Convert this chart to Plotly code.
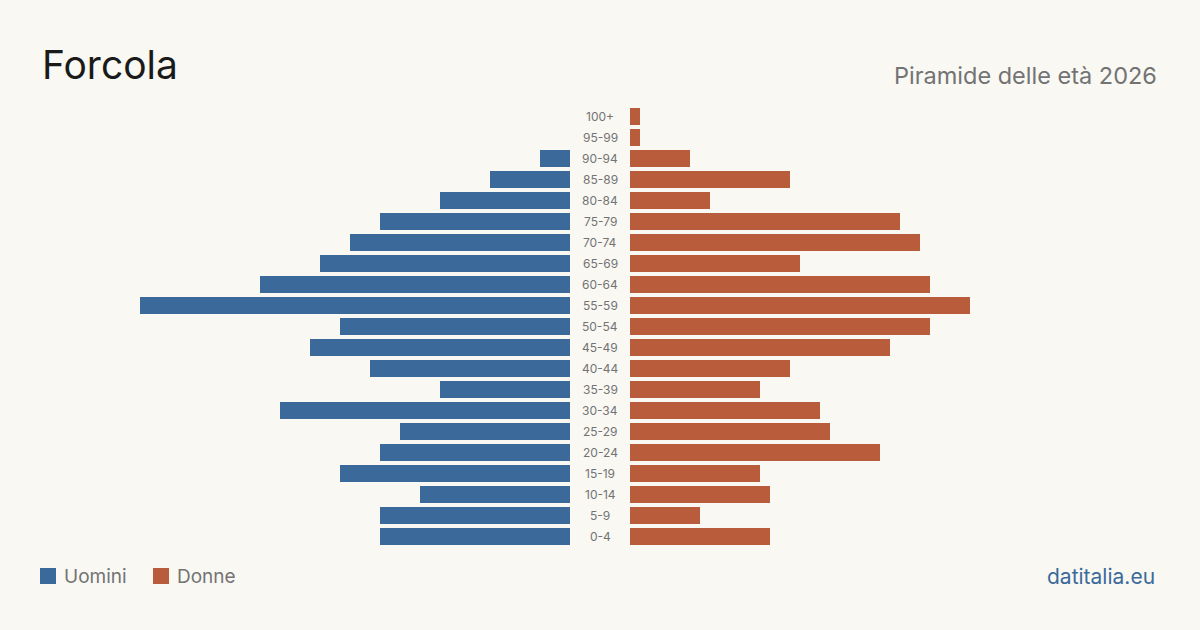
import plotly.graph_objects as go

ages = ["0-4", "5-9", "10-14", "15-19", "20-24", "25-29", "30-34", "35-39", "40-44",
        "45-49", "50-54", "55-59", "60-64", "65-69", "70-74", "75-79", "80-84",
        "85-89", "90-94", "95-99", "100+"]
uomini = [19, 19, 15, 23, 19, 17, 29, 13, 20, 26, 23, 43, 31, 25, 22, 19, 13, 8, 3, 0, 0]
donne = [14, 7, 14, 13, 25, 20, 19, 13, 16, 26, 30, 34, 30, 17, 29, 27, 8, 16, 6, 1, 1]

BLUE = "#3b6a9a"
ORANGE = "#b85c3c"
BG = "#f9f8f3"
GRAY = "#737373"
FONT = "Inter"

W, H = 1200, 630
ypos = list(range(len(ages)))

fig = go.Figure()
fig.add_trace(go.Bar(y=ypos, x=uomini, orientation="h", marker=dict(color=BLUE, line_width=0),
                     width=0.81, xaxis="x", yaxis="y", name="Uomini",
                     showlegend=False, hoverinfo="x+name"))
fig.add_trace(go.Bar(y=ypos, x=donne, orientation="h", marker=dict(color=ORANGE, line_width=0),
                     width=0.81, xaxis="x2", yaxis="y", name="Donne",
                     showlegend=False, hoverinfo="x+name"))

# row centers: 0-4 at y=536px, 100+ at 116px -> 21 px per row
y_bottom_px = 536.5 + 10.5
y_top_px = 116.5 - 10.5
ydom = [(H - y_bottom_px) / H, (H - y_top_px) / H]

annotations = []
for i, a in enumerate(ages):
    annotations.append(dict(x=0.5, xref="paper", y=i, yref="y", text=a, showarrow=False,
                            font=dict(family=FONT, size=12, color=GRAY),
                            xanchor="center", yanchor="middle"))

annotations += [
    dict(x=40 / W, y=1 - 90 / H, xref="paper", yref="paper", text="Forcola", showarrow=False,
         xanchor="left", yanchor="bottom", font=dict(family=FONT, size=39, color="#1a1a1a")),
    dict(x=1159 / W, y=1 - 92 / H, xref="paper", yref="paper", text="Piramide delle età 2026",
         showarrow=False, xanchor="right", yanchor="bottom",
         font=dict(family=FONT, size=23.5, color=GRAY)),
    dict(x=62 / W, y=1 - 576 / H, xref="paper", yref="paper", text="Uomini", showarrow=False,
         xanchor="left", yanchor="middle", font=dict(family=FONT, size=19, color=GRAY)),
    dict(x=175 / W, y=1 - 576 / H, xref="paper", yref="paper", text="Donne", showarrow=False,
         xanchor="left", yanchor="middle", font=dict(family=FONT, size=19, color=GRAY)),
    dict(x=1157 / W, y=1 - 576 / H, xref="paper", yref="paper", text="datitalia.eu",
         showarrow=False, xanchor="right", yanchor="middle",
         font=dict(family=FONT, size=21, color=BLUE)),
]

shapes = [
    dict(type="rect", xref="paper", yref="paper", x0=40 / W, x1=56 / W,
         y0=1 - 584 / H, y1=1 - 568 / H, fillcolor=BLUE, line_width=0),
    dict(type="rect", xref="paper", yref="paper", x0=153 / W, x1=169 / W,
         y0=1 - 584 / H, y1=1 - 568 / H, fillcolor=ORANGE, line_width=0),
]

fig.update_layout(
    width=W, height=H, margin=dict(l=0, r=0, t=0, b=0),
    paper_bgcolor=BG, plot_bgcolor=BG, bargap=0,
    xaxis=dict(domain=[0, 570 / W], range=[57, 0], visible=False, fixedrange=True),
    xaxis2=dict(domain=[630 / W, 1], range=[0, 57], visible=False, fixedrange=True, anchor="y"),
    yaxis=dict(domain=ydom, range=[-0.5, len(ages) - 0.5], visible=False, fixedrange=True),
    annotations=annotations, shapes=shapes,
)

fig.write_html("out.html")
